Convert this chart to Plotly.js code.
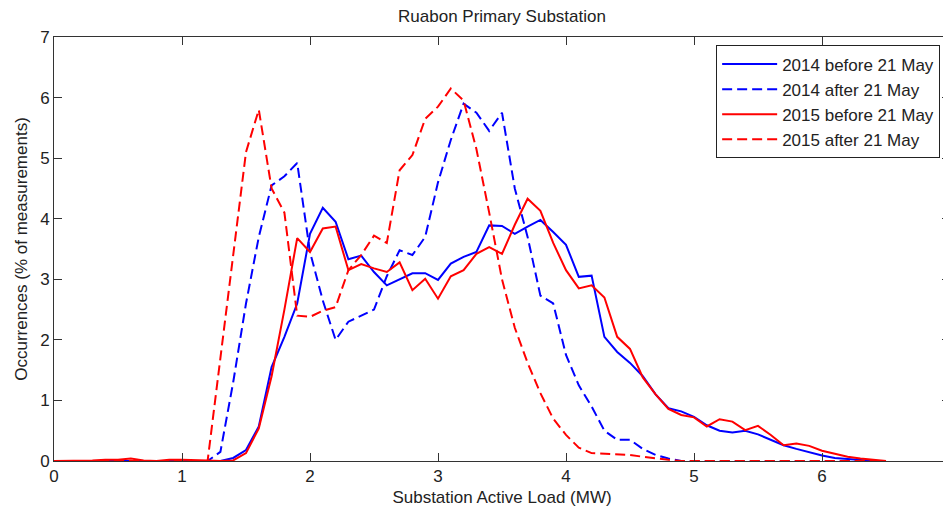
<!DOCTYPE html>
<html>
<head>
<meta charset="utf-8">
<script src="https://cdn.plot.ly/plotly-3.0.1.min.js"></script>
<style>
  html, body { margin: 0; padding: 0; background: #fff; overflow: hidden; }
  #wrap { width: 943px; height: 509px; overflow: hidden; }
</style>
</head>
<body>
<div id="wrap"><div id="chart"></div></div>
<script>
// load bins (MW)
var loadMW = [0.0, 0.1, 0.2, 0.3, 0.4, 0.5, 0.6, 0.7, 0.8, 0.9,
              1.0, 1.1, 1.2, 1.3, 1.4, 1.5, 1.6, 1.7, 1.8, 1.9,
              2.0, 2.1, 2.2, 2.3, 2.4, 2.5, 2.6, 2.7, 2.8, 2.9,
              3.0, 3.1, 3.2, 3.3, 3.4, 3.5, 3.6, 3.7, 3.8, 3.9,
              4.0, 4.1, 4.2, 4.3, 4.4, 4.5, 4.6, 4.7, 4.8, 4.9,
              5.0, 5.1, 5.2, 5.3, 5.4, 5.5, 5.6, 5.7, 5.8, 5.9,
              6.0, 6.1, 6.2, 6.3, 6.4, 6.5];

// occurrences, % of measurements
var before2014 = [0, 0, 0, 0, 0, 0, 0, 0, 0, 0,
                  0, 0, 0, 0, 0.05, 0.18, 0.57, 1.55, 2.05, 2.6,
                  3.75, 4.18, 3.95, 3.33, 3.39, 3.12, 2.9, 3.0, 3.1, 3.1,
                  2.99, 3.26, 3.37, 3.45, 3.89, 3.88, 3.75, 3.87, 3.98, 3.78,
                  3.57, 3.04, 3.06, 2.05, 1.8, 1.62, 1.4, 1.1, 0.87, 0.82,
                  0.73, 0.59, 0.5, 0.47, 0.5, 0.44, 0.35, 0.26, 0.2, 0.14,
                  0.09, 0.05, 0.03, 0.01, 0, 0];
var after2014 = [0, 0, 0, 0, 0, 0, 0, 0, 0, 0,
                 0, 0, 0, 0.15, 1.3, 2.6, 3.7, 4.55, 4.7, 4.92,
                 3.45, 2.65, 2.0, 2.3, 2.4, 2.5, 3.05, 3.48, 3.4, 3.7,
                 4.6, 5.3, 5.9, 5.75, 5.45, 5.75, 4.5, 3.7, 2.73, 2.6,
                 1.75, 1.25, 0.9, 0.5, 0.35, 0.35, 0.2, 0.1, 0.04, 0,
                 0, 0, 0, 0, 0, 0, 0, 0, 0, 0,
                 0, 0, 0, 0, 0, 0];
var before2015 = [0, 0, 0, 0.01, 0.02, 0.02, 0.04, 0.01, 0, 0.02,
                  0.02, 0.02, 0.01, 0, 0.01, 0.13, 0.54, 1.4, 2.5, 3.68,
                  3.45, 3.84, 3.87, 3.15, 3.25, 3.18, 3.12, 3.28, 2.82, 3.01,
                  2.68, 3.05, 3.15, 3.42, 3.53, 3.42, 3.9, 4.33, 4.13, 3.6,
                  3.15, 2.85, 2.9, 2.7, 2.05, 1.85, 1.38, 1.1, 0.86, 0.76,
                  0.72, 0.57, 0.69, 0.65, 0.51, 0.58, 0.43, 0.26, 0.29, 0.25,
                  0.17, 0.12, 0.07, 0.04, 0.02, 0];
var after2015 = [0, 0, 0, 0, 0, 0, 0, 0, 0, 0,
                 0, 0, 0, 1.7, 3.45, 5.1, 5.8, 4.5, 4.1, 2.4,
                 2.38, 2.48, 2.54, 3.15, 3.4, 3.72, 3.6, 4.8, 5.05, 5.65,
                 5.85, 6.15, 5.95, 5.15, 4.1, 3.0, 2.2, 1.62, 1.12, 0.7,
                 0.43, 0.22, 0.13, 0.12, 0.1, 0.1, 0.07, 0.04, 0.02, 0,
                 0, 0, 0, 0, 0, 0, 0, 0, 0, 0,
                 0, 0, 0, 0, 0, 0];

var seriesNames = ['2014 before 21 May', '2014 after 21 May',
                   '2015 before 21 May', '2015 after 21 May'];

var blue = 'rgb(0,0,255)';
var red = 'rgb(255,0,0)';
var dashed = '10px,5px';

function trace(y, name, color, dash) {
  return {
    x: loadMW,
    y: y,
    name: name,
    type: 'scatter',
    mode: 'lines',
    line: {color: color, width: 2, dash: dash}
  };
}

var data = [
  trace(before2014, seriesNames[0], blue, 'solid'),
  trace(after2014, seriesNames[1], blue, dashed),
  trace(before2015, seriesNames[2], red, 'solid'),
  trace(after2015, seriesNames[3], red, dashed)
];

var axisStyle = {
  showgrid: false,
  zeroline: false,
  showline: true,
  linecolor: '#333',
  linewidth: 1,
  mirror: 'ticks',
  ticks: 'inside',
  ticklen: 8,
  tickcolor: '#333',
  dtick: 1,
  tickfont: {size: 17, color: '#222'}
};

// plot is a bit wider than the window, so the right edge (x = 7) is cut off like the original
var layout = {
  width: 960,
  height: 509,
  margin: {l: 54, r: 10, t: 37, b: 48},
  paper_bgcolor: '#fff',
  plot_bgcolor: '#fff',
  font: {family: '"Liberation Sans", Arial, sans-serif', size: 17, color: '#222'},
  title: {
    text: 'Ruabon Primary Substation',
    font: {size: 17, color: '#222'},
    x: 0.5, xref: 'paper',
    y: 0.968, yanchor: 'middle'
  },
  xaxis: Object.assign({}, axisStyle, {
    range: [0, 7],
    title: {text: 'Substation Active Load (MW)', font: {size: 17}, standoff: 5}
  }),
  yaxis: Object.assign({}, axisStyle, {
    range: [0, 7],
    title: {text: 'Occurrences (% of measurements)', font: {size: 17}, standoff: 8}
  }),
  showlegend: true,
  legend: {
    x: 0.989, xanchor: 'right',
    y: 0.98, yanchor: 'top',
    bgcolor: '#fff',
    bordercolor: '#222',
    borderwidth: 1,
    font: {size: 17, color: '#222'},
    itemwidth: 55,
    tracegroupgap: 0
  }
};

Plotly.newPlot('chart', data, layout, {displaylogo: false, displayModeBar: false, staticPlot: true});
</script>
</body>
</html>
